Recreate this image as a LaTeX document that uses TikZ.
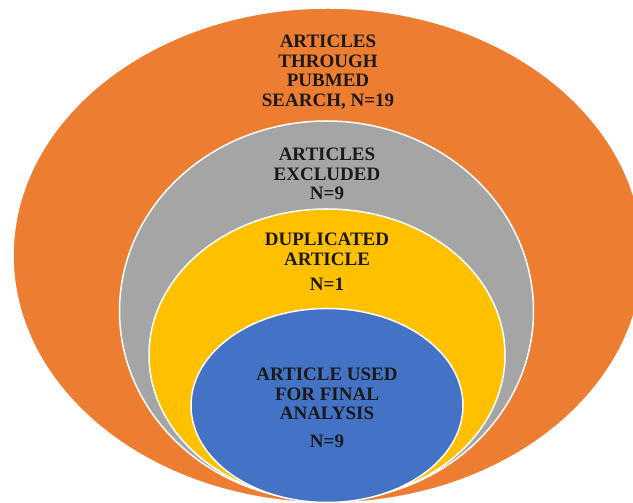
\documentclass[tikz,border=0pt]{standalone}
\usepackage{fontspec}
\setmainfont{Liberation Serif}
\definecolor{ringorange}{HTML}{ED7D31}
\definecolor{ringgray}{HTML}{A5A5A5}
\definecolor{ringyellow}{HTML}{FFC000}
\definecolor{ringblue}{HTML}{4472C4}
\begin{document}
\begin{tikzpicture}[x=1pt,y=1pt]
	\tikzstyle{every node}=[font=\fontsize{19}{19.5}\selectfont\bfseries, text=black!90, align=center, inner sep=0pt, anchor=north]
	\tikzstyle{ring}=[draw=white, line width=1.5pt]
	
	\useasboundingbox (0,0) rectangle (633,503);
	\clip (0,0) rectangle (633,503);
	
	\filldraw[ring, fill=ringorange] (328,247.5) ellipse [x radius=315, y radius=247.5];
	\filldraw[ring, fill=ringgray] (326.5,192) ellipse [x radius=207, y radius=190];
	\filldraw[ring, fill=ringyellow] (327,148) ellipse [x radius=178, y radius=146];
	\filldraw[ring, fill=ringblue] (327,97.5) ellipse [x radius=136, y radius=97];
	
	\node (search) at (328,468) {ARTICLES\\THROUGH\\PUBMED\\SEARCH, N=19};
	\node (excluded) at (327,355) {ARTICLES\\EXCLUDED\\N=9};
	\node (duplicated) at (327,270) {DUPLICATED\\ARTICLE\\[6pt]N=1};
	\node (final) at (327,135) {ARTICLE USED\\FOR FINAL\\ANALYSIS\\[8pt]N=9};
	
\end{tikzpicture}
\end{document}
